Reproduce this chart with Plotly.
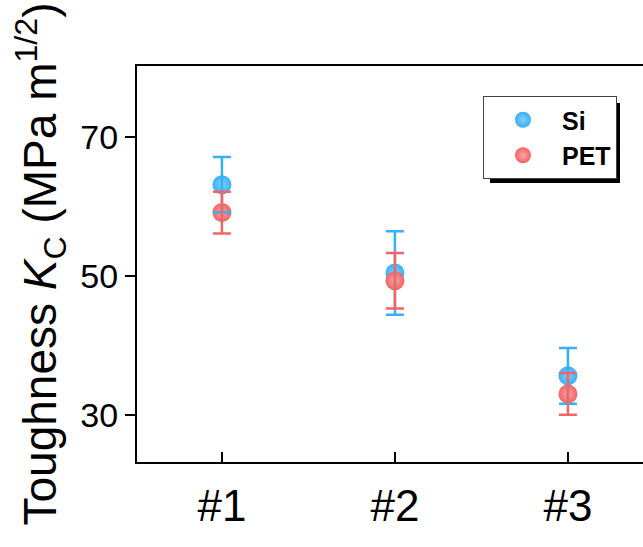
import plotly.graph_objects as go

# ---- data ----
categories = ["#1", "#2", "#3"]
positions = [1, 2, 3]
si_values = [63.1, 50.4, 35.6]
si_errors = [4.0, 6.0, 4.0]
pet_values = [59.1, 49.3, 33.0]
pet_errors = [3.0, 4.0, 3.0]
y_ticks = [30, 50, 70]

BLUE = "#36B0F6"
BLUE_HI = "#86CFFA"
RED = "#F36464"
RED_HI = "#F8A4A4"
FONT = "Liberation Sans, Arial, sans-serif"

W, H = 643, 547
ML, MR, MT, MB = 137, 0, 66, 85
PW, PH = W - ML - MR, H - MT - MB


def px_x(p):
    return (p - ML) / PW


def px_y(p):
    return (H - MB - p) / PH


fig = go.Figure()

# marker traces (shown in legend)
for name, vals, col, hi in [("Si", si_values, BLUE, BLUE_HI),
                            ("PET", pet_values, RED, RED_HI)]:
    fig.add_trace(go.Scatter(
        x=positions, y=vals, mode="markers", name=name,
        marker=dict(size=19, color=col, line=dict(width=0),
                    gradient=dict(type="radial", color=hi)),
        showlegend=True,
    ))

# error bars drawn above the markers
for vals, errs, col in [(si_values, si_errors, BLUE),
                        (pet_values, pet_errors, RED)]:
    fig.add_trace(go.Scatter(
        x=positions, y=vals, mode="markers",
        marker=dict(size=1, color="rgba(0,0,0,0)"),
        error_y=dict(type="data", array=errs, visible=True,
                     color=col, thickness=2.5, width=9),
        showlegend=False, hoverinfo="skip",
    ))

# legend shadow (offset box behind the legend)
lx0, lx1, ly0, ly1 = 484, 613, 96, 175
fig.add_shape(type="rect", xref="paper", yref="paper",
              x0=px_x(lx0 + 6), x1=px_x(lx1 + 7),
              y0=px_y(ly1 + 8), y1=px_y(ly0 + 7),
              fillcolor="black", line=dict(width=0), layer="above")

fig.update_layout(
    width=W, height=H,
    margin=dict(l=ML, r=MR, t=MT, b=MB, pad=0, autoexpand=False),
    paper_bgcolor="white", plot_bgcolor="white",
    font=dict(family=FONT, color="black"),
    legend=dict(x=px_x(483), y=px_y(ly0), xanchor="left", yanchor="top",
                bgcolor="white", bordercolor="#444", borderwidth=1,
                font=dict(family=FONT, size=25, color="black", weight="bold"),
                itemwidth=68, itemsizing="trace", tracegroupgap=0),
    xaxis=dict(
        range=[0.509, 3.434], tickmode="array", tickvals=positions,
        ticktext=categories, ticks="inside", ticklen=10, tickwidth=2,
        tickcolor="black", showline=True, linewidth=2, linecolor="black",
        mirror=True, showgrid=False, zeroline=False, automargin=False,
        ticklabelstandoff=4,
        tickfont=dict(family=FONT, size=44, color="black"),
    ),
    yaxis=dict(
        range=[23.2, 80.2], tickmode="array", tickvals=y_ticks,
        ticks="outside", ticklen=10, tickwidth=2, tickcolor="black",
        showline=True, linewidth=2, linecolor="black", mirror=False,
        showgrid=False, zeroline=False, automargin=True,
        tickfont=dict(family=FONT, size=34, color="black"),
        title=dict(text="Toughness <i>K</i><sub>C</sub> (MPa m<sup>1/2</sup>)",
                   font=dict(family=FONT, size=46, color="black"),
                   standoff=9),
    ),
)

fig.write_html(
    "out.html",
    config={"displayModeBar": False},
    post_script="document.body.style.margin='0';"
                "document.body.style.overflow='hidden';",
)
